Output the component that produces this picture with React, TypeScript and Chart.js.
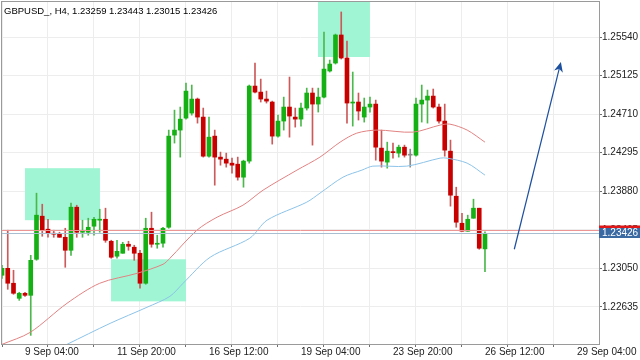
import React, { useEffect, useRef } from "react";
import { Chart, registerables } from "chart.js";

Chart.register(...registerables);

// ---- data ----
const symbol = "GBPUSD_";
const timeframe = "H4";
const firstIndex = -4; // bar index of first candle (0 = 9 Sep 04:00)

const opens = [
  1.22975, 1.2305, 1.22889, 1.22727, 1.22781, 1.22759, 1.23147, 1.23611, 1.23471, 1.23427,
  1.23417, 1.23384, 1.23244, 1.23708, 1.23438, 1.23438, 1.23503, 1.23568, 1.23578, 1.23341,
  1.2318, 1.23212, 1.23309, 1.23277, 1.23212, 1.22889, 1.23481, 1.23309, 1.2332, 1.23492,
  1.24484, 1.24538, 1.24667, 1.24721, 1.24872, 1.24678, 1.24257, 1.24473, 1.24247, 1.24225,
  1.24182, 1.24171, 1.24031, 1.24204, 1.25012, 1.24947, 1.24872, 1.2484, 1.24473, 1.24635,
  1.24786, 1.24678, 1.24656, 1.24775, 1.24937, 1.24818, 1.24893, 1.25174, 1.2526, 1.25562,
  1.25314, 1.24829, 1.2484, 1.24678, 1.24786, 1.24818, 1.24344, 1.24193, 1.24306, 1.2429,
  1.24354, 1.24268, 1.24268, 1.24818, 1.24861, 1.24904, 1.24786, 1.24635, 1.24311, 1.23826,
  1.23535, 1.23449, 1.23589, 1.23697, 1.23259,
];
const highs = [
  1.23083, 1.2346, 1.23029, 1.22792, 1.22792, 1.2319, 1.23859, 1.2374, 1.23578, 1.2346,
  1.23438, 1.23481, 1.23751, 1.23729, 1.23568, 1.23589, 1.236, 1.23686, 1.23697, 1.23352,
  1.23352, 1.2333, 1.23341, 1.23298, 1.23244, 1.23589, 1.23654, 1.23406, 1.23492, 1.24538,
  1.24753, 1.24786, 1.25044, 1.25023, 1.24883, 1.24775, 1.24678, 1.24538, 1.24301, 1.2429,
  1.24236, 1.24247, 1.24214, 1.25023, 1.2526, 1.25087, 1.24958, 1.2485, 1.24699, 1.24893,
  1.25109, 1.24775, 1.24829, 1.2499, 1.2499, 1.2499, 1.25594, 1.25292, 1.25572, 1.2581,
  1.25497, 1.25163, 1.24937, 1.24883, 1.24893, 1.24861, 1.24538, 1.24408, 1.24398, 1.24376,
  1.24376, 1.24333, 1.24883, 1.25023, 1.24969, 1.2498, 1.24818, 1.24818, 1.2443, 1.23923,
  1.23643, 1.23622, 1.23794, 1.23697, 1.23443,
];
const lows = [
  1.22942, 1.22824, 1.2277, 1.22705, 1.22748, 1.22328, 1.23136, 1.23395, 1.23384, 1.23384,
  1.23384, 1.23061, 1.2319, 1.23384, 1.23384, 1.23406, 1.23406, 1.23438, 1.2333, 1.23158,
  1.23158, 1.23212, 1.23244, 1.23136, 1.22835, 1.22878, 1.23277, 1.23266, 1.23277, 1.23481,
  1.24398, 1.24247, 1.24656, 1.24699, 1.24613, 1.24247, 1.24247, 1.23945, 1.2416, 1.24139,
  1.24074, 1.23999, 1.23923, 1.24182, 1.24937, 1.2484, 1.24829, 1.24387, 1.24462, 1.24538,
  1.24462, 1.2457, 1.24581, 1.24753, 1.24376, 1.24732, 1.24883, 1.25163, 1.25249, 1.25303,
  1.24613, 1.24581, 1.24646, 1.24624, 1.24732, 1.24214, 1.24139, 1.24128, 1.24236, 1.24247,
  1.24247, 1.24139, 1.24257, 1.24624, 1.24613, 1.24775, 1.24613, 1.24257, 1.23719, 1.23492,
  1.23449, 1.23449, 1.23589, 1.23255, 1.23015,
];
const closes = [
  1.2305, 1.22889, 1.22781, 1.22781, 1.22759, 1.23136, 1.23622, 1.2346, 1.23427, 1.23417,
  1.23384, 1.23244, 1.23708, 1.23438, 1.23449, 1.23492, 1.23578, 1.23578, 1.23352, 1.23169,
  1.23233, 1.23309, 1.23287, 1.23212, 1.22889, 1.23481, 1.23309, 1.23314, 1.23481, 1.24473,
  1.24538, 1.24656, 1.24958, 1.24872, 1.24678, 1.24257, 1.24462, 1.24247, 1.24225, 1.24182,
  1.2416, 1.24031, 1.24204, 1.25012, 1.24947, 1.24872, 1.2485, 1.24473, 1.24635, 1.24786,
  1.24689, 1.24656, 1.24775, 1.24937, 1.24818, 1.24893, 1.25195, 1.25249, 1.25562, 1.25314,
  1.24829, 1.2484, 1.24743, 1.24786, 1.24818, 1.24354, 1.24204, 1.24311, 1.24295, 1.24354,
  1.24268, 1.24268, 1.24818, 1.24861, 1.24904, 1.24786, 1.24635, 1.24322, 1.23837, 1.23546,
  1.23449, 1.23578, 1.23697, 1.23266, 1.23426,
];

// moving averages (bar index, price)
const maRedIdx = [-4, 0.9, 7.3, 13, 19.5, 24, 25.2, 29.9, 33.4, 37.9, 41.4, 47.3, 51.3, 54.8, 57.7, 61.2, 67.5, 72.2, 73.9, 76.9, 80];
const maRedVal = [1.22231, 1.2236, 1.22673, 1.22889, 1.22996, 1.23093, 1.23158, 1.2346, 1.236, 1.23729, 1.23891, 1.24107, 1.24247, 1.24408, 1.24505, 1.24538, 1.24516, 1.24592, 1.24602, 1.24538, 1.24408];
const maBlueIdx = [7.3, 14.8, 21.2, 25.2, 27.5, 32.2, 39.1, 42.1, 49.0, 51.3, 55.3, 58.6, 60.5, 66.4, 72.2, 73.4, 76.9, 80];
const maBlueVal = [1.22231, 1.22457, 1.2263, 1.22748, 1.22889, 1.23169, 1.23374, 1.23568, 1.23762, 1.23859, 1.24031, 1.24107, 1.2415, 1.2415, 1.24236, 1.24236, 1.24182, 1.24053];

const yTickValues = [1.22635, 1.2305, 1.23465, 1.2388, 1.24295, 1.2471, 1.25125, 1.2554];
const xTickIdx = [0, 8, 16, 24, 32, 40, 48, 56, 64, 72, 80, 88, 96];
const xLabelIdx = [0, 16, 32, 48, 64, 80, 96];
const xLabelText = ["9 Sep 04:00", "11 Sep 20:00", "16 Sep 12:00", "19 Sep 04:00", "23 Sep 20:00", "26 Sep 12:00", "29 Sep 04:00"];

// highlighted zones: [startIdx, endIdx], [lowPrice, highPrice]
const zoneIdx = [[0, 13.04], [14.96, 28], [50.96, 60]];
const zonePrice = [[1.23568, 1.24128], [1.22694, 1.23147], [1.25325, 1.25917]];

// arrow (bar index, price)
const arrowFrom = [85.1, 1.23255];
const arrowTo = [93.2, 1.25271];

const bidPrice = 1.23426;
const askPrice = 1.2346;

const yMin = 1.22235;
const yMax = 1.25917;
const xMin = -4;
const xMax = 99.83;

// ---- styles ----
const FONT = '"Liberation Sans", Arial, sans-serif';
const BULL = "#14b014";
const BEAR = "#c80000";
const BULL_WICK = "#4cb84c";
const BEAR_WICK = "#cc5a5a";
const DOJI = "#8a8a8a";

const last = opens.length - 1;
const titleText = `${symbol}, ${timeframe}, ${opens[last].toFixed(5)} ${highs[last].toFixed(5)} ${lows[last].toFixed(5)} ${closes[last].toFixed(5)}`;

function candleColor(i: number, body: boolean) {
  if (closes[i] === opens[i]) return DOJI;
  if (closes[i] > opens[i]) return body ? BULL : BULL_WICK;
  return body ? BEAR : BEAR_WICK;
}

const overlayPlugin = {
  id: "overlay",
  beforeDatasetsDraw(chart: any) {
    const { ctx, scales } = chart;
    const x = scales.x;
    const y = scales.y;
    ctx.save();
    ctx.fillStyle = "rgb(160,246,212)";
    zoneIdx.forEach((zx, k) => {
      const x0 = x.getPixelForValue(zx[0]);
      const x1 = x.getPixelForValue(zx[1]);
      const yTop = y.getPixelForValue(zonePrice[k][1]);
      const yBot = y.getPixelForValue(zonePrice[k][0]);
      ctx.fillRect(x0, yTop, x1 - x0, yBot - yTop);
    });
    ctx.restore();
  },
  afterDatasetsDraw(chart: any) {
    const { ctx, scales, chartArea: a } = chart;
    const x = scales.x;
    const y = scales.y;
    ctx.save();
    // price lines
    const ya = Math.round(y.getPixelForValue(askPrice)) + 0.5;
    const yb = Math.round(y.getPixelForValue(bidPrice)) + 0.5;
    ctx.lineWidth = 1;
    ctx.strokeStyle = "rgb(236,150,150)";
    ctx.beginPath();
    ctx.moveTo(a.left, ya);
    ctx.lineTo(a.right, ya);
    ctx.stroke();
    ctx.strokeStyle = "rgb(170,190,210)";
    ctx.beginPath();
    ctx.moveTo(a.left, yb);
    ctx.lineTo(a.right, yb);
    ctx.stroke();

    // arrow
    const sx = x.getPixelForValue(arrowFrom[0]);
    const sy = y.getPixelForValue(arrowFrom[1]);
    const tx = x.getPixelForValue(arrowTo[0]);
    const ty = y.getPixelForValue(arrowTo[1]);
    const dx = tx - sx;
    const dy = ty - sy;
    const len = Math.sqrt(dx * dx + dy * dy);
    const ux = dx / len;
    const uy = dy / len;
    const headL = 10;
    const headW = 4.5;
    const bx = tx - ux * headL;
    const by = ty - uy * headL;
    ctx.strokeStyle = "#1c4f9e";
    ctx.fillStyle = "#1c4f9e";
    ctx.lineWidth = 1.2;
    ctx.beginPath();
    ctx.moveTo(sx, sy);
    ctx.lineTo(bx + ux * 3, by + uy * 3);
    ctx.stroke();
    ctx.beginPath();
    ctx.moveTo(tx, ty);
    ctx.lineTo(bx - uy * headW, by + ux * headW);
    ctx.lineTo(bx + ux * 3, by + uy * 3);
    ctx.lineTo(bx + uy * headW, by - ux * headW);
    ctx.closePath();
    ctx.fill();
    ctx.restore();
  },
  afterDraw(chart: any) {
    const { ctx, scales, chartArea: a, width } = chart;
    const y = scales.y;
    ctx.save();
    // frame
    ctx.strokeStyle = "#9a9a9a";
    ctx.lineWidth = 1;
    ctx.strokeRect(a.left - 0.5, a.top - 0.5, a.right - a.left + 1, a.bottom - a.top + 1);

    // price labels
    const ya = y.getPixelForValue(askPrice);
    const yb = y.getPixelForValue(bidPrice);
    ctx.fillStyle = "#e01818";
    ctx.fillRect(a.right, Math.round(ya) - 4.5, width - a.right, 9);
    ctx.fillStyle = "#3b6aa3";
    ctx.fillRect(a.right, Math.round(yb) - 5, width - a.right, 10);
    ctx.fillStyle = "#ffffff";
    ctx.font = `10px ${FONT}`;
    ctx.textBaseline = "middle";
    ctx.textAlign = "left";
    ctx.fillText(bidPrice.toFixed(5), a.right + 3, Math.round(yb) + 0.5);

    // title
    ctx.fillStyle = "#000000";
    ctx.font = `9.5px ${FONT}`;
    ctx.textBaseline = "alphabetic";
    ctx.fillText(titleText, a.left + 2, a.top + 11.5);
    ctx.restore();
  },
};

export default function App() {
  const canvasRef = useRef<HTMLCanvasElement | null>(null);

  useEffect(() => {
    const canvas = canvasRef.current;
    if (!canvas) return;

    const wickData = opens.map((_, i) => ({ x: firstIndex + i, y: [lows[i], highs[i]] }));
    const bodyData = opens.map((_, i) => ({ x: firstIndex + i, y: [opens[i], closes[i]] }));
    const redData = maRedIdx.map((v, i) => ({ x: v, y: maRedVal[i] }));
    const blueData = maBlueIdx.map((v, i) => ({ x: v, y: maBlueVal[i] }));

    const chart = new Chart(canvas, {
      type: "bar",
      data: {
        datasets: [
          {
            type: "line",
            label: "MA fast",
            data: redData,
            borderColor: "rgb(226,130,130)",
            borderWidth: 1,
            pointRadius: 0,
            tension: 0.3,
            order: 0,
          } as any,
          {
            type: "line",
            label: "MA slow",
            data: blueData,
            borderColor: "rgb(140,195,232)",
            borderWidth: 1,
            pointRadius: 0,
            tension: 0.3,
            order: 0,
          } as any,
          {
            type: "bar",
            label: "body",
            data: bodyData,
            backgroundColor: opens.map((_, i) => candleColor(i, true)),
            borderWidth: 0,
            barThickness: 4,
            minBarLength: 1,
            grouped: false,
            order: 1,
          } as any,
          {
            type: "bar",
            label: "wick",
            data: wickData,
            backgroundColor: opens.map((_, i) => candleColor(i, false)),
            borderWidth: 0,
            barThickness: 1,
            minBarLength: 1,
            grouped: false,
            order: 2,
          } as any,
        ],
      },
      options: {
        animation: false,
        responsive: false,
        maintainAspectRatio: false,
        layout: { padding: { left: 2, top: 2, right: 0, bottom: 0 } },
        plugins: {
          legend: { display: false },
          tooltip: { enabled: false },
          title: { display: false },
        },
        scales: {
          x: {
            type: "linear",
            position: "bottom",
            min: xMin,
            max: xMax,
            offset: false,
            border: { display: false },
            grid: {
              color: "#ededed",
              lineWidth: 1,
              drawTicks: true,
              tickLength: 3,
              tickColor: "#6e6e6e",
            },
            ticks: {
              autoSkip: false,
              maxRotation: 0,
              minRotation: 0,
              align: "start",
              padding: 0,
              color: "#222",
              font: { size: 10, family: FONT, lineHeight: 1 },
              callback: (v: any) => {
                const k = xLabelIdx.indexOf(Number(v));
                return k >= 0 ? xLabelText[k] : "";
              },
            },
            afterBuildTicks: (s: any) => {
              s.ticks = xTickIdx.map((v) => ({ value: v }));
            },
            afterFit: (s: any) => {
              s.height = 16;
              s.paddingLeft = 0;
              s.paddingRight = 0;
            },
          },
          y: {
            type: "linear",
            position: "right",
            min: yMin,
            max: yMax,
            border: { display: false },
            grid: {
              color: "#ededed",
              lineWidth: 1,
              drawTicks: true,
              tickLength: 3,
              tickColor: "#6e6e6e",
            },
            ticks: {
              padding: 0,
              color: "#222",
              font: { size: 10, family: FONT },
              callback: (v: any) => Number(v).toFixed(5),
            },
            afterBuildTicks: (s: any) => {
              s.ticks = yTickValues.map((v) => ({ value: v }));
            },
            afterFit: (s: any) => {
              s.width = 41;
              s.paddingTop = 0;
              s.paddingBottom = 0;
            },
          },
        },
      } as any,
      plugins: [overlayPlugin],
    });

    return () => chart.destroy();
  }, []);

  return (
    <div style={{ position: "absolute", left: 0, top: 0, width: 640, height: 360, background: "#fff" }}>
      <canvas ref={canvasRef} width={640} height={360} style={{ display: "block" }} />
    </div>
  );
}
